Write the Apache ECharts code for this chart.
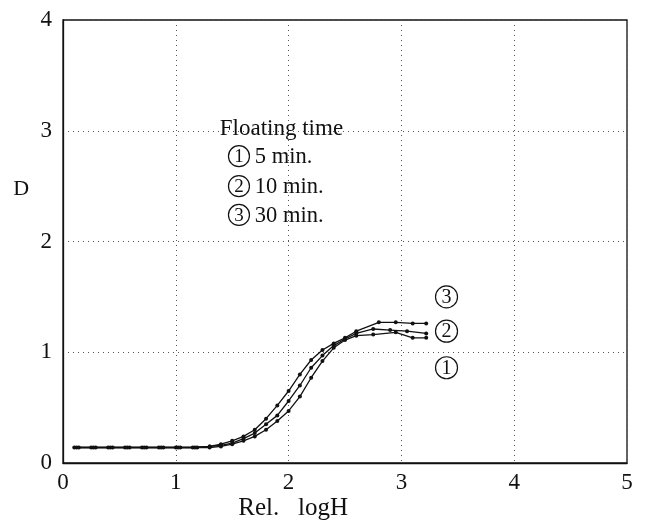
<!DOCTYPE html>
<html><head><meta charset="utf-8">
<script src="https://cdn.jsdelivr.net/npm/echarts@6/dist/echarts.min.js"></script>
<style>html,body{margin:0;padding:0;background:#fff}#c{width:648px;height:522px}</style>
</head><body><div id="c"></div>
<script>
const xTicks = [0, 1, 2, 3, 4, 5];
const yTicks = [0, 1, 2, 3, 4];
const series3X = [0.1, 0.25, 0.4, 0.55, 0.7, 0.85, 1.0, 1.15, 1.3, 1.4, 1.5, 1.6, 1.7, 1.8, 1.9, 2.0, 2.1, 2.2, 2.3, 2.4, 2.5, 2.6, 2.8, 2.95, 3.1, 3.22];
const series3Y = [0.14, 0.14, 0.14, 0.14, 0.14, 0.14, 0.14, 0.14, 0.15, 0.17, 0.2, 0.24, 0.3, 0.4, 0.52, 0.65, 0.8, 0.93, 1.02, 1.08, 1.13, 1.19, 1.27, 1.27, 1.26, 1.26];
const series2X = [0.12, 0.27, 0.42, 0.57, 0.72, 0.87, 1.02, 1.17, 1.3, 1.4, 1.5, 1.6, 1.7, 1.8, 1.9, 2.0, 2.1, 2.2, 2.3, 2.4, 2.5, 2.6, 2.75, 2.9, 3.05, 3.22];
const series2Y = [0.14, 0.14, 0.14, 0.14, 0.14, 0.14, 0.14, 0.14, 0.15, 0.16, 0.18, 0.22, 0.27, 0.35, 0.43, 0.56, 0.7, 0.86, 0.97, 1.06, 1.12, 1.17, 1.21, 1.2, 1.19, 1.17];
const series1X = [0.14, 0.29, 0.44, 0.59, 0.74, 0.89, 1.04, 1.19, 1.3, 1.4, 1.5, 1.6, 1.7, 1.8, 1.9, 2.0, 2.1, 2.2, 2.3, 2.4, 2.5, 2.6, 2.75, 2.95, 3.1, 3.22];
const series1Y = [0.14, 0.14, 0.14, 0.14, 0.14, 0.14, 0.14, 0.14, 0.14, 0.15, 0.17, 0.2, 0.24, 0.3, 0.38, 0.47, 0.6, 0.77, 0.92, 1.04, 1.11, 1.15, 1.16, 1.18, 1.13, 1.13];
const legendTitle = 'Floating time';
const legendNums = ['1', '2', '3'];
const legendTexts = ['5 min.', '10 min.', '30 min.'];
const endNums = ['3', '2', '1'];

const FONT = '"Liberation Serif", "DejaVu Serif", serif';
const zip = (xs, ys) => xs.map((x, i) => [x, ys[i]]);
const mkSeries = (xs, ys) => ({
  type: 'line', data: zip(xs, ys), symbol: 'circle', symbolSize: 4,
  lineStyle: {color: '#111', width: 1.3}, itemStyle: {color: '#111'},
  animation: false, smooth: false
});

const chart = echarts.init(document.getElementById('c'), null, {renderer: 'canvas'});
chart.setOption({
  animation: false,
  backgroundColor: '#fff',
  grid: {left: 63, right: 21, top: 20, bottom: 59, show: true, borderColor: '#111', borderWidth: 1.3},
  xAxis: {
    type: 'value', min: xTicks[0], max: xTicks[xTicks.length - 1], interval: 1,
    axisLine: {show: true, lineStyle: {color: '#111', width: 1.3}},
    axisTick: {show: false},
    axisLabel: {color: '#111', fontFamily: FONT, fontSize: 23, margin: 8},
    splitLine: {show: true, lineStyle: {color: '#555', type: [1, 4], width: 1}}
  },
  yAxis: {
    type: 'value', min: yTicks[0], max: yTicks[yTicks.length - 1], interval: 1,
    axisLine: {show: true, lineStyle: {color: '#111', width: 1.3}},
    axisTick: {show: false},
    axisLabel: {color: '#111', fontFamily: FONT, fontSize: 23, margin: 11},
    splitLine: {show: true, lineStyle: {color: '#555', type: [1, 4], width: 1}}
  },
  series: [mkSeries(series3X, series3Y), mkSeries(series2X, series2Y), mkSeries(series1X, series1Y)]
});

const P = (x, y) => chart.convertToPixel({gridIndex: 0}, [x, y]);
const txt = (x, y, s, size, align) => ({
  type: 'text', x: x, y: y,
  style: {text: s, fill: '#111', font: size + 'px ' + FONT, textAlign: align || 'left', textVerticalAlign: 'middle'}
});
const circ = (x, y, r) => ({
  type: 'circle', shape: {cx: x, cy: y, r: r},
  style: {fill: 'none', stroke: '#111', lineWidth: 1.2}
});
const g = [];
let p = P(1.39, 3.02); g.push(txt(p[0], p[1], legendTitle, 23));
const legY = [2.77, 2.5, 2.24];
legendNums.forEach((n, i) => {
  const c = P(1.56, legY[i]);
  g.push(circ(c[0], c[1], 10.5));
  g.push(txt(c[0], c[1] + 1, n, 19, 'center'));
  const t = P(1.7, legY[i]);
  g.push(txt(t[0], t[1] + 1, legendTexts[i], 22.5));
});
const endY = [1.5, 1.19, 0.86];
endNums.forEach((n, i) => {
  const c = P(3.4, endY[i]);
  g.push(circ(c[0], c[1], 11));
  g.push(txt(c[0], c[1] + 1, n, 20, 'center'));
});
p = P(-0.37, 2.47); g.push(txt(p[0], p[1], 'D', 22, 'center'));
p = P(2.04, -0.41); g.push(txt(p[0], p[1], 'Rel.   logH', 25, 'center'));
chart.setOption({graphic: g});
</script></body></html>
